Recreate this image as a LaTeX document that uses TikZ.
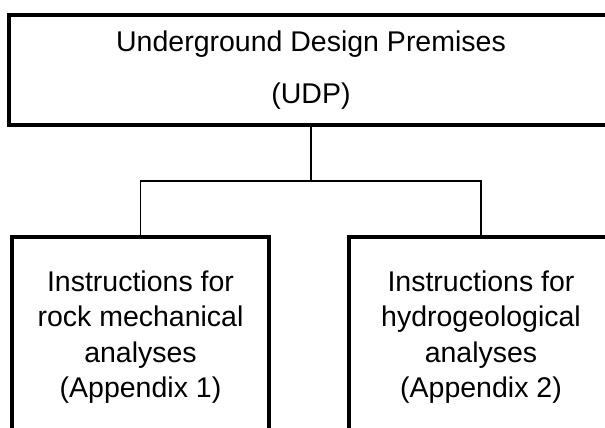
\documentclass[tikz,border=0pt]{standalone}
\usepackage{fontspec}
\setmainfont{Liberation Sans}
\begin{document}
\begin{tikzpicture}[x=1pt,y=-1pt,
  box/.style={draw=black, line width=4pt, fill=white, rectangle, inner sep=0pt, align=center},
  link/.style={draw=black, line width=1.4pt}]
\useasboundingbox (0,0) rectangle (605,428);
\clip (0,0) rectangle (605,428);
\fill[white] (0,0) rectangle (605,428);
% top box
\node[box, minimum width=604pt, minimum height=110pt,
      font=\fontsize{28.5}{52.5}\selectfont] (udp) at (311,70)
  {Underground Design Premises\\(UDP)};
% lower boxes
\node[box, minimum width=257pt, minimum height=200pt,
      font=\fontsize{28.5}{35.5}\selectfont] (rock) at (140.5,337)
  {Instructions for\\rock mechanical\\analyses\\(Appendix 1)};
\node[box, minimum width=264pt, minimum height=200pt,
      font=\fontsize{28.5}{35.5}\selectfont] (hydro) at (481,337)
  {Instructions for\\hydrogeological\\analyses\\(Appendix 2)};
% connectors
\coordinate (j) at (311,181);
\draw[link] (udp.south) -- (j);
\draw[link] (rock.north) |- (j) -| (hydro.north);
\end{tikzpicture}
\end{document}
